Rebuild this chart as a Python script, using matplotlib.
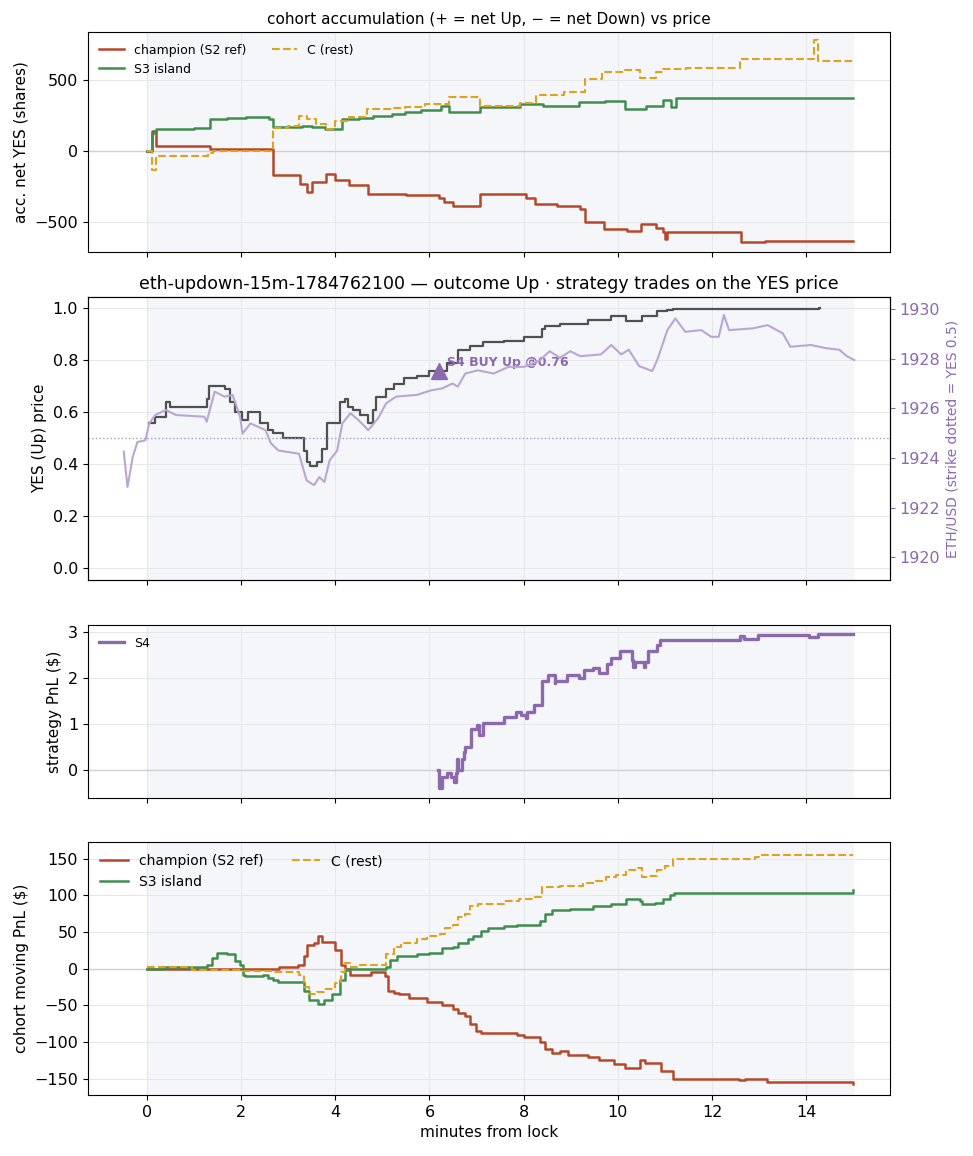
import numpy as np
import matplotlib
matplotlib.use("Agg")
import matplotlib.pyplot as plt

# ---- colours
RUST = "#b5482a"
GREEN = "#3e8e4f"
GOLD = "#e0a21c"
PURPLE = "#8c69ad"
LILAC = "#b9a6d3"
SHADE = "#f5f6fa"

# ---- panel 1: accumulated net YES shares
acc_champ_t = [0, 0.1, 0.2, 1.3, 1.35, 2.68, 3.25, 3.4, 3.5, 3.8, 4.0, 4.3, 4.7, 5.5,
               6.2, 6.3, 6.5, 7.07, 8.04, 8.25, 8.7, 9.2, 9.3, 9.7, 10.2, 10.5, 10.8,
               10.96, 11.0, 11.05, 12.62, 13.13, 15.0]
acc_champ_v = [0, 140, 40, 35, 12, -170, -230, -290, -220, -160, -200, -240, -300, -310,
               -330, -360, -390, -300, -330, -374, -390, -410, -500, -552, -560, -512, -540,
               -571, -620, -571, -643, -635, -630]
acc_s3_t = [0, 0.1, 0.2, 1.0, 1.34, 1.7, 2.1, 2.6, 2.68, 3.3, 3.5, 3.78, 4.14, 4.5, 4.8,
            5.2, 5.49, 5.82, 6.25, 6.41, 7.07, 7.93, 8.42, 9.18, 9.72, 10.15, 10.59,
            10.96, 11.13, 11.24, 15.0]
acc_s3_v = [0, 130, 155, 165, 226, 232, 243, 230, 171, 178, 170, 160, 226, 235, 250,
            260, 274, 293, 321, 274, 310, 333, 321, 345, 357, 298, 321,
            364, 310, 374, 374]
acc_c_t = [0, 0.1, 0.2, 1.3, 1.4, 2.68, 3.0, 3.22, 3.4, 3.6, 3.8, 4.0, 4.3, 4.68, 5.2,
           5.49, 5.9, 6.41, 7.07, 7.93, 8.26, 8.85, 9.3, 9.66, 10.15, 10.47, 10.8,
           10.96, 11.45, 12.59, 14.16, 14.25, 15.0]
acc_c_v = [0, -130, -36, -10, 0, 167, 175, 250, 230, 190, 155, 214, 240, 298, 305,
           312, 330, 385, 317, 340, 393, 417, 507, 560, 571, 517, 560,
           583, 590, 650, 786, 638, 630]

# ---- panel 2: YES price and ETH/USD
yes_t = [0.05, 0.18, 0.4, 0.5, 1.27, 1.33, 1.47, 1.65, 1.76, 1.87, 2.03, 2.14, 2.41,
         2.58, 2.68, 2.9, 3.34, 3.39, 3.47, 3.61, 3.72, 3.83, 4.1, 4.21, 4.27, 4.37,
         4.53, 4.7, 4.8, 4.86, 5.08, 5.24, 5.46, 5.73, 6.0, 6.38, 6.6, 6.87, 7.14,
         7.58, 8.01, 8.39, 8.45, 8.77, 9.37, 9.86, 10.18, 10.51, 10.83, 11.05, 11.16,
         12.58, 14.26, 14.3]
yes_v = [0.56, 0.58, 0.64, 0.62, 0.65, 0.70, 0.70, 0.69, 0.64, 0.60, 0.57, 0.60,
         0.56, 0.53, 0.52, 0.50, 0.45, 0.41, 0.395, 0.41, 0.46, 0.56, 0.64, 0.65,
         0.62, 0.61, 0.59, 0.56, 0.61, 0.66, 0.69, 0.71, 0.73, 0.74, 0.76, 0.79,
         0.84, 0.855, 0.87, 0.875, 0.89, 0.92, 0.93, 0.94, 0.955, 0.97, 0.95, 0.97,
         0.99, 0.992, 0.996, 0.998, 1.0, 1.0]
eth_t = [-0.49, -0.41, -0.3, -0.2, -0.03, 0.05, 0.18, 0.4, 0.62, 1.22, 1.27, 1.44,
         1.65, 1.82, 1.98, 2.03, 2.2, 2.52, 2.63, 2.79, 3.23, 3.39, 3.55, 3.66, 3.77,
         3.88, 4.04, 4.15, 4.32, 4.49, 4.7, 4.91, 5.08, 5.29, 5.73, 6.05, 6.27, 6.49,
         6.6, 6.76, 7.03, 7.36, 7.68, 8.01, 8.34, 8.55, 8.77, 8.99, 9.2, 9.64, 9.86,
         10.07, 10.23, 10.45, 10.73, 10.84, 11.05, 11.22, 11.43, 11.77, 11.98, 12.14,
         12.25, 12.36, 12.86, 13.18, 13.5, 13.66, 14.1, 14.42, 14.7, 14.86, 15.02]
eth_v = [1924.25, 1922.83, 1924.04, 1924.64, 1924.71, 1925.39, 1925.73, 1925.93,
         1925.73, 1925.66, 1925.46, 1926.67, 1926.47, 1926.54, 1925.66, 1924.98,
         1925.39, 1925.12, 1924.6, 1924.3, 1924.17, 1923.1, 1922.9, 1923.23, 1923.03,
         1923.9, 1924.3, 1925.39, 1925.8, 1925.53, 1925.12, 1925.6, 1926.2, 1926.47,
         1926.54, 1926.73, 1926.8, 1927.0, 1926.87, 1927.4, 1927.53, 1927.4, 1927.67,
         1927.67, 1927.93, 1928.3, 1928.03, 1928.3, 1928.1, 1928.17, 1928.55, 1928.17,
         1928.36, 1927.7, 1927.5, 1927.97, 1929.15, 1929.62, 1929.08, 1929.15, 1928.88,
         1928.88, 1929.76, 1929.15, 1929.22, 1929.35, 1929.02, 1928.48, 1928.55,
         1928.42, 1928.36, 1928.1, 1927.94]
STRIKE = 1924.8
trade_t, trade_px, trade_label = 6.2, 0.76, "S4 BUY Up @0.76"

# ---- panel 3: strategy PnL (S4)
s4_t = [6.19, 6.21, 6.27, 6.37, 6.46, 6.52, 6.57, 6.59, 6.6, 6.69, 6.73, 6.76, 6.89,
        7.01, 7.05, 7.14, 7.58, 7.83, 7.94, 8.04, 8.06, 8.22, 8.38, 8.52, 8.66, 8.67,
        8.92, 9.17, 9.27, 9.48, 9.6, 9.77, 9.86, 10.04, 10.3, 10.33, 10.36, 10.55,
        10.57, 10.64, 10.82, 10.9, 12.6, 12.67, 12.97, 14.05, 14.25, 15.0]
s4_v = [0.0, -0.38, -0.15, -0.05, -0.15, -0.25, -0.05, 0.25, 0.0, 0.25, 0.41, 0.5,
        0.9, 0.99, 0.78, 1.04, 1.16, 1.28, 1.2, 1.15, 1.28, 1.42, 1.94, 2.07, 1.9,
        1.95, 2.07, 2.0, 2.18, 2.22, 2.12, 2.32, 2.45, 2.6, 2.4, 2.25, 2.35, 2.25,
        2.35, 2.6, 2.72, 2.84, 2.93, 2.85, 2.95, 2.9, 2.97, 2.97]

# ---- panel 4: cohort moving PnL
pnl_champ_t = [0, 2.8, 3.2, 3.34, 3.39, 3.55, 3.64, 3.71, 3.99, 4.13, 4.21, 4.32, 4.64,
               4.75, 4.91, 5.05, 5.13, 5.24, 5.35, 5.57, 5.95, 6.27, 6.49, 6.6, 6.76,
               6.87, 6.98, 7.09, 7.85, 8.01, 8.34, 8.45, 8.61, 8.77, 8.93, 9.37, 9.59,
               9.91, 10.16, 10.46, 10.57, 10.92, 11.16, 12.58, 12.69, 13.17, 15.0]
pnl_champ_v = [0, 2, 5, 18, 32, 35, 44, 37, 25, 5, 0, -9, -8, -5, -5, -10, -30, -33,
               -35, -40, -45, -50, -55, -60, -65, -75, -85, -88, -90, -93, -100, -110,
               -115, -112, -117, -120, -125, -130, -135, -125, -128, -140, -150, -152,
               -150, -155, -157]
pnl_s3_t = [0, 0.35, 1.27, 1.38, 1.49, 1.7, 1.87, 1.98, 2.04, 2.09, 2.47, 2.58, 2.68,
            2.79, 3.34, 3.45, 3.64, 3.77, 3.93, 4.1, 4.2, 4.26, 4.86, 5.08, 5.16, 5.3,
            5.73, 6.0, 6.27, 6.49, 6.6, 6.82, 6.92, 7.09, 7.25, 7.58, 7.85, 8.34, 8.45,
            8.61, 8.99, 9.48, 9.86, 10.18, 10.46, 10.51, 10.78, 10.95, 11.1, 11.2, 14.95,
            15.0]
pnl_s3_v = [0, 3, 5, 15, 22, 20, 10, 5, -8, -10, -8, -12, -15, -18, -30, -42, -48,
            -43, -35, -15, -2, 0, 0, 3, 12, 17, 20, 22, 28, 30, 35, 40, 45, 52, 55, 58,
            60, 65, 75, 80, 82, 85, 88, 95, 93, 88, 90, 95, 100, 103, 103, 107]
pnl_c_t = [0, 0.95, 2.04, 2.68, 3.23, 3.34, 3.45, 3.61, 3.77, 3.99, 4.12, 4.21, 4.32,
           4.53, 4.86, 5.08, 5.24, 5.4, 5.73, 5.95, 6.22, 6.33, 6.49, 6.6, 6.76, 6.87,
           7.03, 7.58, 7.9, 8.23, 8.39, 8.77, 9.26, 9.53, 9.75, 9.97, 10.18, 10.4,
           10.51, 10.67, 10.84, 11.0, 11.16, 12.9, 13.0, 15.0]
pnl_c_v = [2, -2, -3, -5, -8, -25, -35, -32, -28, -20, -5, 8, 2, 5, 5, 20, 30, 35, 40,
           45, 48, 55, 60, 70, 75, 85, 88, 92, 95, 98, 112, 113, 117, 120, 125, 128,
           135, 137, 125, 127, 135, 140, 150, 152, 155, 155]

LOCK_END = 15.0

fig = plt.figure(figsize=(9.73, 11.56), dpi=100)
ax1 = fig.add_axes([0.0904, 0.782, 0.824, 0.190])
ax2 = fig.add_axes([0.0904, 0.498, 0.824, 0.245], sharex=ax1)
ax3 = fig.add_axes([0.0904, 0.310, 0.824, 0.149], sharex=ax1)
ax4 = fig.add_axes([0.0904, 0.0528, 0.824, 0.219], sharex=ax1)

for ax in (ax1, ax2, ax3, ax4):
    ax.axvspan(0, LOCK_END, color=SHADE, zorder=0)
    ax.grid(True, color="#e6e6ea", lw=0.7)
    ax.set_axisbelow(True)
    ax.tick_params(labelsize=11.5)

# panel 1
ax1.axhline(0, color="#d0d0d0", lw=1, zorder=1)
ax1.step(acc_champ_t, acc_champ_v, where="post", color=RUST, lw=1.8, label="champion (S2 ref)")
ax1.step(acc_s3_t, acc_s3_v, where="post", color=GREEN, lw=1.8, label="S3 island")
ax1.step(acc_c_t, acc_c_v, where="post", color=GOLD, lw=1.5, ls="--", label="C (rest)")
ax1.set_ylim(-711, 838)
ax1.set_yticks([-500, 0, 500])
ax1.set_ylabel("acc. net YES (shares)", fontsize=11)
ax1.set_title("cohort accumulation (+ = net Up, \u2212 = net Down) vs price", fontsize=11)
h, l = ax1.get_legend_handles_labels()
ax1.legend([h[0], h[1], h[2]], [l[0], l[1], l[2]], ncol=2, fontsize=9, frameon=False,
           loc="upper left")
ax1.tick_params(labelbottom=False)

# panel 2
ax2.step(yes_t, yes_v, where="post", color="#505050", lw=1.6)
ax2.axhline(0.5, color="#a99bbf", lw=1, ls=":")
ax2.plot(trade_t, trade_px, marker="^", color=PURPLE, ms=11, ls="none", zorder=5)
ax2.annotate(trade_label, (trade_t, trade_px), xytext=(6, 3), textcoords="offset points",
             color=PURPLE, fontsize=9, fontweight="bold")
ax2.set_ylim(-0.046, 1.042)
ax2.set_ylabel("YES (Up) price", fontsize=11)
ax2.set_title("eth-updown-15m-1784762100 \u2014 outcome Up \u00b7 strategy trades on the YES price",
              fontsize=12.5)
ax2.tick_params(labelbottom=False)
ax2r = ax2.twinx()
ax2r.plot(eth_t, eth_v, color=LILAC, lw=1.5)
ax2r.set_ylim(1919.07, 1930.48)
ax2r.set_yticks([1920, 1922, 1924, 1926, 1928, 1930])
ax2r.tick_params(colors=PURPLE, labelsize=11.5)
ax2r.set_ylabel("ETH/USD (strike dotted = YES 0.5)", color=PURPLE, fontsize=10)

# panel 3
ax3.axhline(0, color="#d0d0d0", lw=1, zorder=1)
ax3.step(s4_t, s4_v, where="post", color=PURPLE, lw=2.4, label="S4")
ax3.set_ylim(-0.59, 3.15)
ax3.set_yticks([0, 1, 2, 3])
ax3.set_ylabel("strategy PnL ($)", fontsize=11)
ax3.legend(fontsize=9, frameon=False, loc="upper left")
ax3.tick_params(labelbottom=False)

# panel 4
ax4.axhline(0, color="#d0d0d0", lw=1, zorder=1)
ax4.step(pnl_champ_t, pnl_champ_v, where="post", color=RUST, lw=1.8, label="champion (S2 ref)")
ax4.step(pnl_s3_t, pnl_s3_v, where="post", color=GREEN, lw=1.8, label="S3 island")
ax4.step(pnl_c_t, pnl_c_v, where="post", color=GOLD, lw=1.5, ls="--", label="C (rest)")
ax4.set_ylim(-172, 173)
ax4.set_yticks([-150, -100, -50, 0, 50, 100, 150])
ax4.set_ylabel("cohort moving PnL ($)", fontsize=11)
ax4.set_xlabel("minutes from lock", fontsize=11)
ax4.legend(ncol=2, fontsize=10, frameon=False, loc="upper left")

ax1.set_xlim(-1.25, 15.77)
ax1.set_xticks([0, 2, 4, 6, 8, 10, 12, 14])

fig.savefig("out.png", dpi=100)
